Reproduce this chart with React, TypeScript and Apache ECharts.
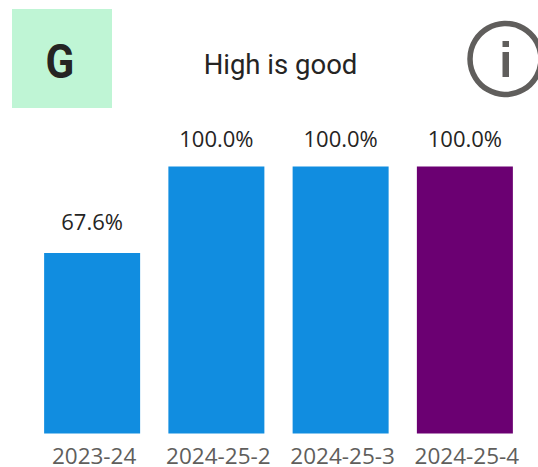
import React, { useEffect, useRef } from "react";
import * as echarts from "echarts";

const categories = ["2023-24", "2024-25-2", "2024-25-3", "2024-25-4"];
const values = [67.6, 100, 100, 100];
const barColors = ["#118DE0", "#118DE0", "#118DE0", "#6B0072"];
const labelGaps = [21, 17.5, 17.5, 17.5];
const gradeText = "G";
const titleText = "High is good";

export default function App() {
  const ref = useRef<HTMLDivElement>(null);
  useEffect(() => {
    const chart = echarts.init(ref.current!, null, { renderer: "svg" });
    chart.setOption({
      animation: false,
      backgroundColor: "#ffffff",
      grid: { left: 30, right: 11, top: 166.5, bottom: 33.5 },
      xAxis: {
        type: "category",
        data: categories,
        axisLine: { show: false },
        axisTick: { show: false },
        axisLabel: {
          color: "#605E5C",
          fontFamily: "'Open Sans', sans-serif",
          fontSize: 22.5,
          lineHeight: 22,
          margin: 11,
          padding: [0, 0, 0, 4],
          interval: 0,
        },
      },
      yAxis: { type: "value", min: 0, max: 100, show: false },
      series: [
        {
          type: "bar",
          barWidth: 96,
          data: values.map((v, i) => ({
            value: v,
            itemStyle: { color: barColors[i] },
            label: { distance: labelGaps[i] },
          })),
          label: {
            show: true,
            position: "top",
            color: "#252423",
            fontFamily: "'Open Sans', sans-serif",
            fontSize: 22,
            formatter: (p: any) => `${Number(p.value).toFixed(1)}%`,
          },
        },
      ],
      graphic: [
        { type: "rect", shape: { x: 12, y: 9, width: 100, height: 99 }, style: { fill: "#BFF5D5" } },
        {
          type: "text",
          x: 60,
          y: 62,
          scaleX: 0.88,
          style: {
            x: 0, y: 0, text: gradeText, fill: "#252423",
            font: "700 48px Roboto, sans-serif",
            textAlign: "center", textVerticalAlign: "middle",
          },
        },
        {
          type: "text",
          style: {
            x: 280.5, y: 64, text: titleText, fill: "#252423",
            font: "400 27.5px Roboto, sans-serif",
            textAlign: "center", textVerticalAlign: "middle",
          },
        },
        {
          type: "circle",
          shape: { cx: 505.5, cy: 59, r: 35.5 },
          style: { fill: "none", stroke: "#605E5C", lineWidth: 5.5 },
        },
        { type: "rect", shape: { x: 502.5, y: 41, width: 6.5, height: 6 }, style: { fill: "#605E5C" } },
        { type: "rect", shape: { x: 502.5, y: 52, width: 6.5, height: 25 }, style: { fill: "#605E5C" } },
      ],
    });
    return () => chart.dispose();
  }, []);
  return <div ref={ref} style={{ position: "fixed", left: 0, top: 0, width: 538, height: 467 }} />;
}
